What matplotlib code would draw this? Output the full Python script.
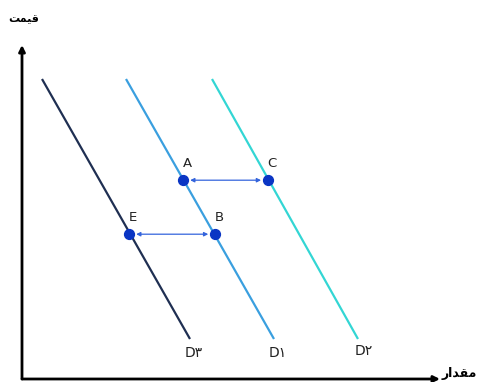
import matplotlib
matplotlib.use("Agg")
import matplotlib.pyplot as plt

# demand curves: quantity at the top and bottom price
price_top = 7.5
price_bottom = 1.0
curve_names = ["D\u06f3", "D\u06f1", "D\u06f2"]
q_top = [0.5, 2.6, 4.75]
q_bottom = [4.2, 6.3, 8.4]
curve_colors = ["#1f2f52", "#3a9fdf", "#33d6d4"]
label_q = [4.3, 6.4, 8.55]
label_p = [0.65, 0.65, 0.7]

# points
point_names = ["A", "C", "E", "B"]
point_q = [4.03, 6.15, 2.68, 4.83]
point_p = [4.97, 4.97, 3.62, 3.62]
arrows = [("A", "C"), ("E", "B")]

# axis titles (Persian, shaped by hand: matplotlib has no RTL shaping)
y_title = "\ufe96\ufee4\ufef4\ufed7"      # قیمت
x_title = "\ufead\ufe8d\ufeaa\ufed8\ufee3"  # مقدار

plt.rcParams["font.family"] = ["DejaVu Sans"]

fig = plt.figure(figsize=(4.81, 3.82), dpi=100)
ax = fig.add_axes([0, 0, 1, 1])
ax.set_xlim(-0.55, 11.475)
ax.set_ylim(-0.075, 9.475)
ax.axis("off")

# axes arrows
ax.annotate("", xy=(10.45, 0), xytext=(0, 0),
            arrowprops=dict(arrowstyle="-|>", color="black", lw=2,
                            mutation_scale=9, shrinkA=0, shrinkB=0))
ax.annotate("", xy=(0, 8.35), xytext=(0, 0),
            arrowprops=dict(arrowstyle="-|>", color="black", lw=2,
                            mutation_scale=9, shrinkA=0, shrinkB=0))
ax.text(0.05, 9.0, y_title, ha="center", va="center", fontsize=8, fontweight="bold")
ax.text(10.5, 0.15, x_title, ha="left", va="center", fontsize=9, fontweight="bold")

for name, qt, qb, c, lq, lp in zip(curve_names, q_top, q_bottom, curve_colors, label_q, label_p):
    ax.plot([qt, qb], [price_top, price_bottom], color=c, lw=1.6, solid_capstyle="butt")
    ax.text(lq, lp, name, ha="center", va="center", fontsize=10, color="#222222")

pos = {n: (q, p) for n, q, p in zip(point_names, point_q, point_p)}
for a, b in arrows:
    ax.annotate("", xy=pos[b], xytext=pos[a],
                arrowprops=dict(arrowstyle="<|-|>", color="#3464dc", lw=0.9,
                                mutation_scale=6, shrinkA=5, shrinkB=5))
ax.scatter(point_q, point_p, s=50, color="#0a35c4", zorder=5)
for n, q, p in zip(point_names, point_q, point_p):
    ax.text(q + 0.1, p + 0.42, n, ha="center", va="center", fontsize=9.5, color="#222222")

fig.savefig("out.png", dpi=100)
